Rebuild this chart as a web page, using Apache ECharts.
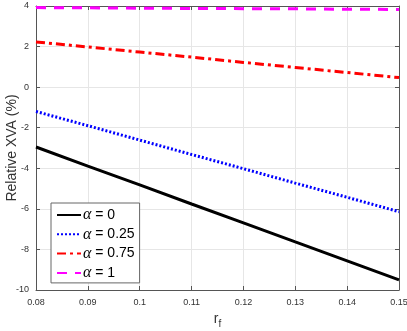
<!DOCTYPE html>
<html>
<head>
<meta charset="utf-8">
<script src="https://cdn.jsdelivr.net/npm/echarts@6/dist/echarts.min.js"></script>
<style>
  html, body { margin: 0; padding: 0; background: #fff; }
  #chart { width: 407px; height: 331px; }
</style>
</head>
<body>
<div id="chart"></div>
<script>
// r_f values and relative XVA (%) per alpha
var rf = [0.08, 0.09, 0.10, 0.11, 0.12, 0.13, 0.14, 0.15];
var names = ["α = 0", "α = 0.25", "α = 0.75", "α = 1"];
var xva0 = [-2.95, -3.89, -4.82, -5.76, -6.69, -7.63, -8.56, -9.5];
var xva25 = [-1.2, -1.9, -2.61, -3.32, -4.02, -4.73, -5.43, -6.14];
var xva75 = [2.23, 1.98, 1.73, 1.48, 1.22, 0.97, 0.72, 0.47];
var xva1 = [3.92, 3.91, 3.89, 3.88, 3.87, 3.86, 3.84, 3.83];

function pairs(vals) {
  return rf.map(function (x, i) { return [x, vals[i]]; });
}

var chart = echarts.init(document.getElementById("chart"));
var axisCol = "#555";
var labelCol = "#333";

function mkSeries(name, vals, color, type) {
  return {
    name: name,
    type: "line",
    data: pairs(vals),
    symbol: "none",
    xAxisIndex: 0,
    yAxisIndex: 0,
    lineStyle: { color: color, width: 3, type: type, cap: "butt" },
    itemStyle: { color: color },
  };
}

var option = {
  animation: false,
  grid: { left: 36, right: 8, top: 6, bottom: 41, outerBoundsMode: "none", containLabel: false },
  legend: {
    orient: "vertical",
    left: 51,
    top: 203,
    itemWidth: 24,
    itemHeight: 12,
    itemGap: 3.3,
    padding: [4, 5, 2, 5],
    borderColor: "#666",
    borderWidth: 1,
    backgroundColor: "#fff",
    data: names,
    itemStyle: { opacity: 0, borderWidth: 0 },
    textStyle: {
      fontFamily: "Liberation Sans",
      fontSize: 14,
      lineHeight: 13,
      color: "#000",
      padding: [0, 0, 0, -3],
      rich: { i: { fontFamily: "Liberation Serif", fontStyle: "italic", fontSize: 16, lineHeight: 13, color: "#000" } },
    },
    formatter: function (n) { return "{i|α}" + n.slice(1); },
  },
  xAxis: [
    {
      type: "value",
      min: 0.08,
      max: 0.15,
      interval: 0.01,
      name: "{r|r}{s|f}",
      nameLocation: "middle",
      nameGap: 19,
      nameMoveOverlap: false,
      nameTextStyle: {
        rich: {
          r: { fontSize: 14, color: "#333", fontFamily: "Liberation Sans" },
          s: { fontSize: 10, color: "#333", fontFamily: "Liberation Sans", padding: [10, 0, 0, 0] },
        },
      },
      axisLine: { onZero: false, lineStyle: { color: axisCol } },
      axisTick: { inside: true, length: 4, lineStyle: { color: axisCol } },
      axisLabel: { fontSize: 9, color: labelCol, fontFamily: "Liberation Sans", margin: 8,
        formatter: function (v) { return String(+v.toFixed(2)); } },
      splitLine: { show: true, lineStyle: { color: "#e6e6e6" } },
    },
    {
      type: "value",
      position: "top",
      min: 0.08,
      max: 0.15,
      interval: 0.01,
      axisLine: { onZero: false, lineStyle: { color: axisCol } },
      axisTick: { inside: true, length: 4, lineStyle: { color: axisCol } },
      axisLabel: { show: false },
      splitLine: { show: false },
    },
  ],
  yAxis: [
    {
      type: "value",
      min: -10,
      max: 4,
      interval: 2,
      name: "Relative XVA (%)",
      nameLocation: "middle",
      nameGap: 17,
      nameMoveOverlap: false,
      nameTextStyle: { fontSize: 14, color: "#333", fontFamily: "Liberation Sans" },
      axisLine: { onZero: false, lineStyle: { color: axisCol } },
      axisTick: { inside: true, length: 4, lineStyle: { color: axisCol } },
      axisLabel: { fontSize: 9, color: labelCol, fontFamily: "Liberation Sans", margin: 7 },
      splitLine: { show: true, lineStyle: { color: "#e6e6e6" } },
    },
    {
      type: "value",
      position: "right",
      min: -10,
      max: 4,
      interval: 2,
      axisLine: { show: true, onZero: false, lineStyle: { color: axisCol } },
      axisTick: { show: true, inside: true, length: 4, lineStyle: { color: axisCol } },
      axisLabel: { show: false },
      splitLine: { show: false },
    },
  ],
  series: [
    mkSeries(names[0], xva0, "#000000", "solid"),
    mkSeries(names[1], xva25, "#0000ff", [2, 2]),
    mkSeries(names[2], xva75, "#ff0000", [9, 4, 3, 4]),
    mkSeries(names[3], xva1, "#ff00ff", [10, 8]),
  ],
};
chart.setOption(option);
</script>
</body>
</html>
